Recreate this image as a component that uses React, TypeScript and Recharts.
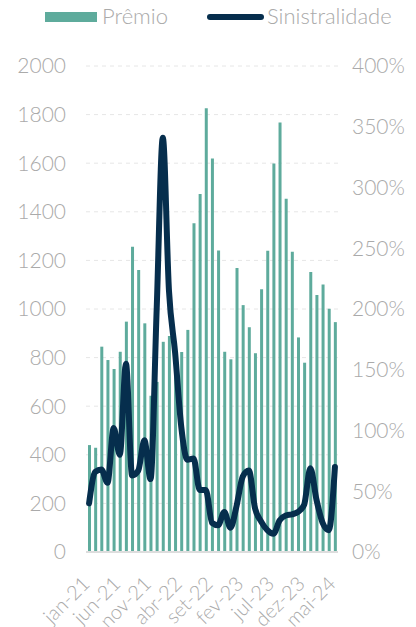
import { Bar, CartesianGrid, ComposedChart, Line, XAxis, YAxis } from "recharts";

// Prêmio (bars, left axis) vs Sinistralidade (line, right axis, %), monthly jan-21 .. mai-24.

const MONTHS = [
  "jan-21", "fev-21", "mar-21", "abr-21", "mai-21", "jun-21", "jul-21", "ago-21", "set-21", "out-21", "nov-21", "dez-21",
  "jan-22", "fev-22", "mar-22", "abr-22", "mai-22", "jun-22", "jul-22", "ago-22", "set-22", "out-22", "nov-22", "dez-22",
  "jan-23", "fev-23", "mar-23", "abr-23", "mai-23", "jun-23", "jul-23", "ago-23", "set-23", "out-23", "nov-23", "dez-23",
  "jan-24", "fev-24", "mar-24", "abr-24", "mai-24",
];

const PREMIO = [
  440, 429, 845, 790, 753, 824, 948, 1256, 1160, 941, 643, 700,
  865, 889, 850, 823, 914, 1353, 1473, 1826, 1619, 1241, 824, 793,
  1169, 1016, 925, 818, 1081, 1240, 1599, 1767, 1454, 1236, 883, 779,
  1152, 1058, 1101, 1001, 946,
];

// percent
const SINISTRALIDADE = [
  40, 66, 68, 57, 102, 80, 155, 63, 67, 92, 60, 200,
  341, 215, 164, 103, 76, 77, 51, 51, 24, 22, 33, 20,
  38, 62, 67, 36, 25, 18, 15, 26, 30, 31, 33, 39,
  69, 43, 24, 18, 70,
];

const LEFT_TICKS = [0, 200, 400, 600, 800, 1000, 1200, 1400, 1600, 1800, 2000];
const RIGHT_TICKS = [0, 50, 100, 150, 200, 250, 300, 350, 400];

const BAR_COLOR = "#5eab9c";
const LINE_COLOR = "#062e4d";
const TEXT_COLOR = "#aaaaaa";
const FONT = "Lato, 'Open Sans', sans-serif";

const data = MONTHS.map((month, i) => ({
  month,
  premio: PREMIO[i],
  sinistralidade: SINISTRALIDADE[i],
}));

function MonthTick({ x, y, payload }: any) {
  return (
    <g transform={`translate(${x + 2},${y + 25})`}>
      <text
        transform="rotate(-45)"
        textAnchor="end"
        fill={TEXT_COLOR}
        fontSize={20}
        fontWeight={300}
        fontFamily={FONT}
      >
        {payload.value}
      </text>
    </g>
  );
}

function LegendRow() {
  return (
    <div
      style={{
        position: "absolute",
        top: 0,
        left: 0,
        width: 416,
        height: 34,
        fontFamily: FONT,
        fontSize: 22,
        fontWeight: 300,
        color: TEXT_COLOR,
      }}
    >
      <div style={{ position: "absolute", left: 45, top: 12, width: 52, height: 10, background: BAR_COLOR }} />
      <span style={{ position: "absolute", left: 102, top: 3, lineHeight: "26px" }}>Prêmio</span>
      <div
        style={{
          position: "absolute",
          left: 207,
          top: 14,
          width: 57,
          height: 6,
          borderRadius: 3,
          background: LINE_COLOR,
        }}
      />
      <span style={{ position: "absolute", left: 267, top: 3, lineHeight: "26px" }}>Sinistralidade</span>
    </div>
  );
}

export default function App() {
  return (
    <div style={{ position: "absolute", top: 0, left: 0, width: 416, height: 627, background: "#fff" }}>
      <ComposedChart
        width={416}
        height={627}
        data={data}
        margin={{ top: 66, right: 0, bottom: 0, left: 0 }}
        barSize={3}
      >
        <CartesianGrid
          yAxisId="left"
          vertical={false}
          stroke="#e6e6e6"
          strokeDasharray="4 4"
        />
        <XAxis
          dataKey="month"
          interval={4}
          tickLine={false}
          axisLine={{ stroke: "#dddddd", strokeWidth: 2 }}
          height={75}
          tick={<MonthTick />}
        />
        <YAxis
          yAxisId="left"
          domain={[0, 2000]}
          ticks={LEFT_TICKS}
          width={86}
          axisLine={false}
          tickLine={false}
          tickMargin={14}
          tick={{ fill: TEXT_COLOR, fontSize: 21, fontWeight: 300, fontFamily: FONT }}
        />
        <YAxis
          yAxisId="right"
          orientation="right"
          domain={[0, 400]}
          ticks={RIGHT_TICKS}
          width={78}
          axisLine={false}
          tickLine={false}
          tickMargin={8}
          tickFormatter={(v) => `${v}%`}
          tick={{ fill: TEXT_COLOR, fontSize: 21, fontWeight: 300, fontFamily: FONT }}
        />
        <Bar yAxisId="left" dataKey="premio" name="Prêmio" fill={BAR_COLOR} isAnimationActive={false} />
        <Line
          yAxisId="right"
          type="monotone"
          dataKey="sinistralidade"
          name="Sinistralidade"
          stroke={LINE_COLOR}
          strokeWidth={6}
          strokeLinecap="round"
          strokeLinejoin="round"
          dot={false}
          activeDot={false}
          isAnimationActive={false}
        />
      </ComposedChart>
      <LegendRow />
    </div>
  );
}
